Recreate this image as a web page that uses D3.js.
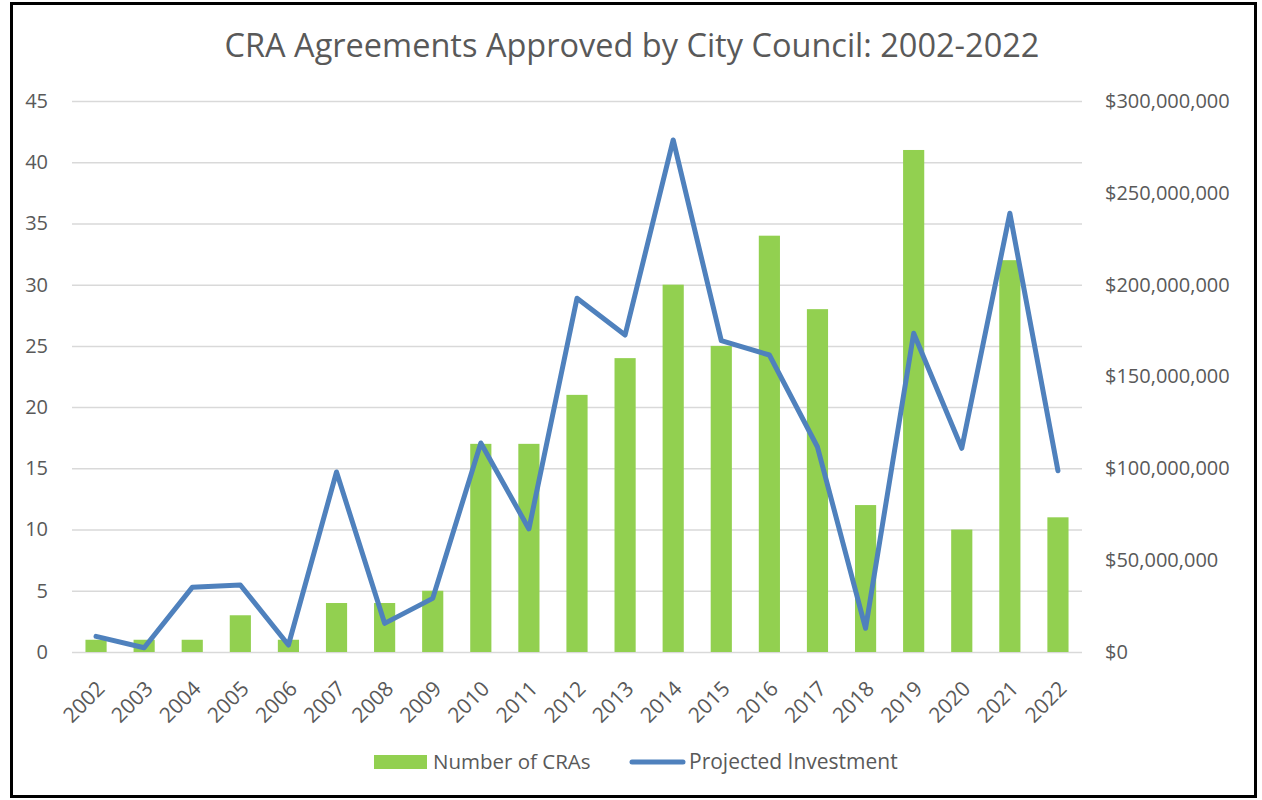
<!DOCTYPE html>
<html>
<head>
<meta charset="utf-8">
<script src="https://cdn.jsdelivr.net/npm/d3@7"></script>
<style>
  html, body { margin: 0; padding: 0; background: #fff; }
  svg { display: block; font-family: "Open Sans", "Noto Sans", sans-serif; }
</style>
</head>
<body>
<div id="chart"></div>
<script>
// Data
const years = ['2002','2003','2004','2005','2006','2007','2008','2009','2010','2011','2012',
               '2013','2014','2015','2016','2017','2018','2019','2020','2021','2022'];
const craCounts = [1, 1, 1, 3, 1, 4, 4, 5, 17, 17, 21, 24, 30, 25, 34, 28, 12, 41, 10, 32, 11];
const investment = [8.5e6, 2.3e6, 35.2e6, 36.5e6, 3.8e6, 98e6, 15.6e6, 29.2e6, 113.8e6, 67e6, 192.6e6,
                    172.6e6, 278.8e6, 169.5e6, 161.7e6, 111.6e6, 12.9e6, 173.5e6, 110.9e6, 238.9e6, 98.7e6];
const leftTicks = [0, 5, 10, 15, 20, 25, 30, 35, 40, 45];
const rightTicks = [0, 50e6, 100e6, 150e6, 200e6, 250e6, 300e6];

const width = 1262, height = 800;
const margin = { top: 101, right: 180, bottom: 148, left: 72 };
const innerWidth = width - margin.left - margin.right;
const innerHeight = height - margin.top - margin.bottom;
const textColor = '#595959';
const tickFont = 20;

const svg = d3.select('#chart').append('svg')
    .attr('width', width)
    .attr('height', height);

// Outer frame
svg.append('rect')
    .attr('x', 11.5).attr('y', 3.5)
    .attr('width', 1244).attr('height', 793)
    .attr('fill', '#fff')
    .attr('stroke', '#000')
    .attr('stroke-width', 3);

// Title
svg.append('text')
    .attr('x', 632)
    .attr('y', 57)
    .attr('text-anchor', 'middle')
    .attr('fill', textColor)
    .attr('font-size', 32.5)
    .text('CRA Agreements Approved by City Council: 2002-2022');

const g = svg.append('g')
    .attr('transform', `translate(${margin.left},${margin.top})`);

// Scales
const x = d3.scaleBand()
    .domain(years)
    .range([0, innerWidth])
    .paddingInner(0.56)
    .paddingOuter(0.28);

const yLeft = d3.scaleLinear()
    .domain([0, 45])
    .range([innerHeight, 0]);

const yRight = d3.scaleLinear()
    .domain([0, 300e6])
    .range([innerHeight, 0]);

// Grid
g.append('g')
    .attr('class', 'grid')
    .call(d3.axisLeft(yLeft)
        .tickValues(leftTicks)
        .tickSize(-innerWidth)
        .tickFormat('')
    )
    .call(s => s.select('.domain').remove())
    .call(s => s.selectAll('line').attr('stroke', '#d9d9d9').attr('stroke-width', 1.5));

// Left axis labels
g.append('g')
    .call(d3.axisLeft(yLeft).tickValues(leftTicks).tickSize(0).tickPadding(24))
    .call(s => s.select('.domain').remove())
    .call(s => s.selectAll('text')
        .attr('fill', textColor)
        .attr('font-size', tickFont)
        .attr('font-family', '"Open Sans", sans-serif'));

// Right axis labels
g.append('g')
    .attr('transform', `translate(${innerWidth},0)`)
    .call(d3.axisRight(yRight).tickValues(rightTicks).tickSize(0).tickPadding(23)
        .tickFormat(d => '$' + d3.format(',')(d)))
    .call(s => s.select('.domain').remove())
    .call(s => s.selectAll('text')
        .attr('fill', textColor)
        .attr('font-size', tickFont)
        .attr('font-family', '"Open Sans", sans-serif'));

// X axis labels (rotated)
g.append('g')
    .attr('transform', `translate(0,${innerHeight})`)
    .call(d3.axisBottom(x).tickSize(0).tickPadding(0))
    .call(s => s.select('.domain').remove())
    .call(s => s.selectAll('text')
        .attr('fill', textColor)
        .attr('font-size', 21)
        .attr('font-family', '"Open Sans", sans-serif')
        .attr('text-anchor', 'end')
        .attr('dy', 0)
        .attr('transform', 'translate(10,38) rotate(-45)'));

// Bars
g.selectAll('.bar')
    .data(craCounts)
    .join('rect')
    .attr('class', 'bar')
    .attr('x', (d, i) => x(years[i]))
    .attr('width', x.bandwidth())
    .attr('y', d => yLeft(d))
    .attr('height', d => innerHeight - yLeft(d))
    .attr('fill', '#92d050');

// Investment line
const line = d3.line()
    .x((d, i) => x(years[i]) + x.bandwidth() / 2)
    .y(d => yRight(d));

g.append('path')
    .datum(investment)
    .attr('d', line)
    .attr('fill', 'none')
    .attr('stroke', '#4f81bd')
    .attr('stroke-width', 5)
    .attr('stroke-linejoin', 'round')
    .attr('stroke-linecap', 'round');

// Legend
const legend = svg.append('g');
legend.append('rect')
    .attr('x', 374).attr('y', 755)
    .attr('width', 53).attr('height', 14)
    .attr('fill', '#92d050');
legend.append('text')
    .attr('x', 433).attr('y', 769)
    .attr('fill', textColor)
    .attr('font-size', 20.5)
    .text('Number of CRAs');
legend.append('line')
    .attr('x1', 632).attr('x2', 683)
    .attr('y1', 762).attr('y2', 762)
    .attr('stroke', '#4f81bd')
    .attr('stroke-width', 5)
    .attr('stroke-linecap', 'round');
legend.append('text')
    .attr('x', 689).attr('y', 769)
    .attr('fill', textColor)
    .attr('font-size', 21)
    .text('Projected Investment');
</script>
</body>
</html>
